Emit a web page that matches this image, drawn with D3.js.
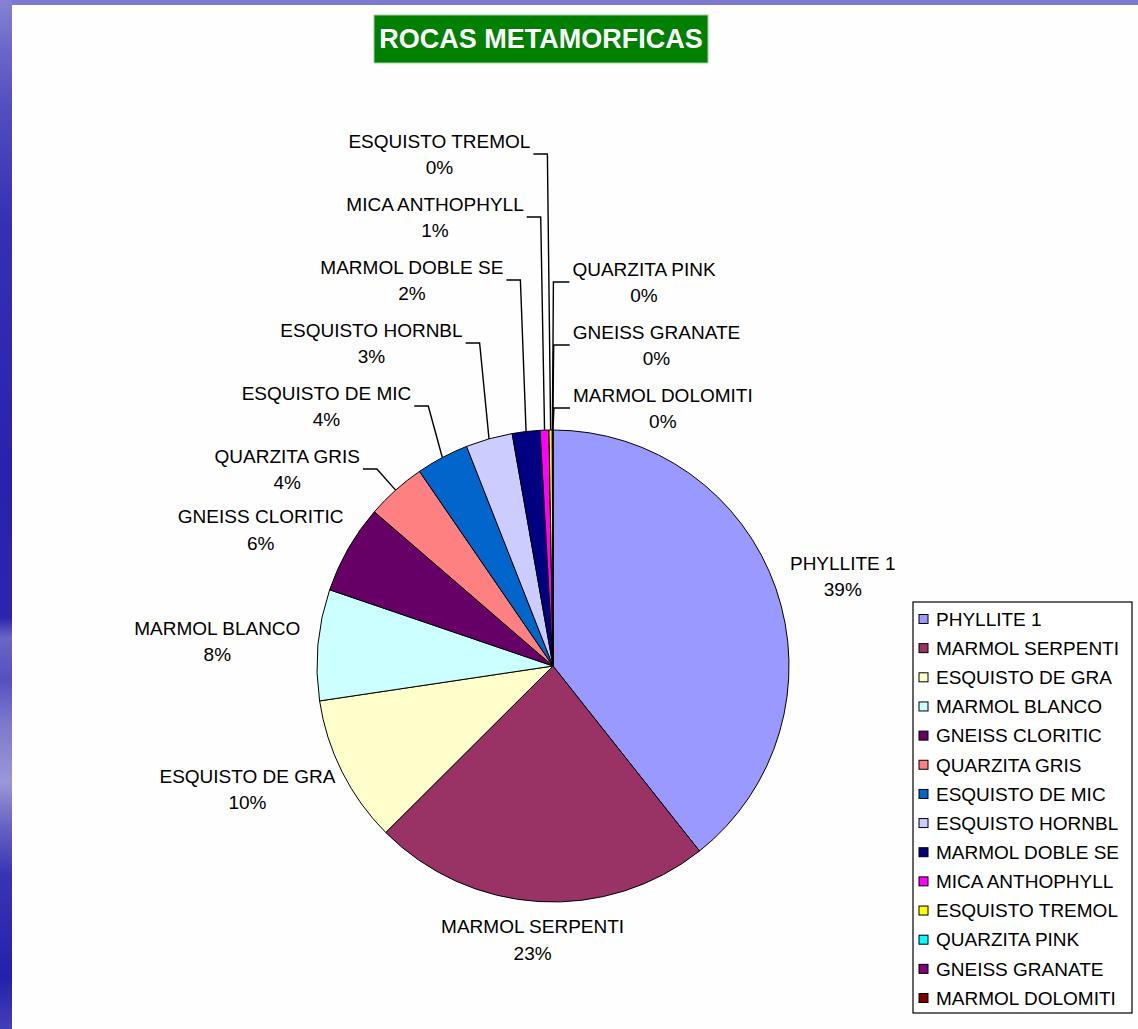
<!DOCTYPE html>
<html>
<head>
<meta charset="utf-8">
<script src="https://cdn.jsdelivr.net/npm/d3@7"></script>
<style>
	body{margin:0;background:#fff;}
	svg{display:block;font-family:"Liberation Sans", Arial, sans-serif;}
</style>
</head>
<body>
<svg id="chart"></svg>
<script>
	var title = "ROCAS METAMORFICAS";

	var categories = ["PHYLLITE 1", "MARMOL SERPENTI", "ESQUISTO DE GRA", "MARMOL BLANCO",
		"GNEISS CLORITIC", "QUARZITA GRIS", "ESQUISTO DE MIC", "ESQUISTO HORNBL",
		"MARMOL DOBLE SE", "MICA ANTHOPHYLL", "ESQUISTO TREMOL", "QUARZITA PINK",
		"GNEISS GRANATE", "MARMOL DOLOMITI"];

	// shares (percent)
	var values = [39.35, 23.2, 10.1, 7.6, 6.1, 4.1, 3.6, 3.2, 1.9, 0.6, 0.22, 0.02, 0.02, 0.01];

	var colors = ["#9999ff", "#993366", "#ffffcc", "#ccffff", "#660066", "#ff8080", "#0066cc",
		"#ccccff", "#000080", "#ff00ff", "#ffff00", "#00ffff", "#800080", "#800000"];

	var width = 1138, height = 1029;
	var cx = 553, cy = 666, radius = 236;
	var fontSize = 19, lineH = 26.5, capH = 13.6;

	var svg = d3.select("#chart").attr("width", width).attr("height", height);

	// slide background decoration
	var defs = svg.append("defs");
	var grad = defs.append("linearGradient").attr("id", "stripe")
		.attr("x1", 0).attr("y1", 0).attr("x2", 0).attr("y2", 1);
	[[0, "#8584d2"], [0.05, "#6a66c8"], [0.1, "#5550c0"], [0.16, "#443eba"], [0.22, "#3530b2"],
	 [0.45, "#2a22ae"], [0.6, "#2c24ae"], [0.62, "#6a66c4"], [0.66, "#5550c0"], [0.7, "#7a76cc"],
	 [0.76, "#9a98d8"], [0.8, "#6a66c4"], [0.85, "#3a34b4"], [0.95, "#2420ac"], [1, "#4440b8"]]
		.forEach(function(s){ grad.append("stop").attr("offset", s[0]).attr("stop-color", s[1]); });

	svg.append("rect").attr("width", width).attr("height", height).attr("fill", "#fefefe");
	svg.append("rect").attr("x", 0).attr("y", 0).attr("width", width).attr("height", 5).attr("fill", "#7c7ad0");
	svg.append("rect").attr("x", 0).attr("y", 0).attr("width", 12).attr("height", height).attr("fill", "url(#stripe)");

	// title
	svg.append("rect").attr("x", 374).attr("y", 15).attr("width", 334).attr("height", 48)
		.attr("fill", "#008000").attr("stroke", "#9fcf9f").attr("stroke-width", 1);
	svg.append("text").attr("x", 541).attr("y", 47.5).attr("text-anchor", "middle")
		.attr("fill", "#fff").style("font", "bold 27px 'Liberation Sans', Arial, sans-serif")
		.text(title);

	var data = categories.map(function(c, i){ return {name: c, value: values[i]}; });
	var total = d3.sum(values);

	var color = d3.scaleOrdinal().domain(categories).range(colors);

	var pie = d3.pie().sort(null).value(function(d){ return d.value; });
	var arc = d3.arc().innerRadius(0).outerRadius(radius);

	var arcs = pie(data);
	arcs.forEach(function(a){
		a.mid = (a.startAngle + a.endAngle) / 2;
		a.share = a.data.value / total;
		a.px = cx + radius * Math.sin(a.mid);
		a.py = cy - radius * Math.cos(a.mid);
	});

	var g = svg.append("g").attr("transform", "translate(" + cx + "," + cy + ")");
	g.selectAll("path")
		.data(arcs)
		.enter().append("path")
		.attr("d", arc)
		.attr("fill", function(d){ return color(d.data.name); })
		.attr("stroke", "#000")
		.attr("stroke-width", 1)
		.attr("stroke-linejoin", "round");

	var labels = svg.append("g").style("font-size", fontSize + "px").attr("fill", "#000");

	function pct(d){ return Math.round(d.share * 100) + "%"; }

	// two centred lines, returns block width
	function makeLabel(d){
		var t = labels.append("text").attr("text-anchor", "middle");
		var l1 = t.append("tspan").text(d.data.name);
		var l2 = t.append("tspan").text(pct(d));
		var w = Math.max(l1.node().getComputedTextLength(), l2.node().getComputedTextLength());
		return {text: t, l1: l1, l2: l2, w: w};
	}

	function place(lab, x, midY){
		lab.l1.attr("x", x).attr("y", midY - lineH / 2 + capH / 2);
		lab.l2.attr("x", x).attr("y", midY + lineH / 2 + capH / 2);
	}

	var line = d3.line();
	var leaders = svg.append("g").attr("fill", "none").attr("stroke", "#000").attr("stroke-width", 1.4);

	var big = arcs.filter(function(d){ return d.share >= 0.05; });
	var leftSmall = arcs.filter(function(d){ return d.share < 0.05 && d.share >= 0.001; });
	var rightSmall = arcs.filter(function(d){ return d.share < 0.001; });

	var pad = 18, blockH = 40;
	big.forEach(function(d){
		var lab = makeLabel(d);
		var s = Math.sin(d.mid), c = Math.cos(d.mid);
		var x = cx + (radius + pad) * s + lab.w / 2 * s;
		var y = cy - (radius + pad) * c - blockH / 2 * c;
		place(lab, x, y);
	});

	leftSmall.forEach(function(d, k){
		var lab = makeLabel(d);
		var midY = cy - radius + 39 - k * 63;
		var right = d.px - 20 - 0.1 * Math.abs(d.px - cx);
		place(lab, right - lab.w / 2, midY);
		leaders.append("path").attr("d", line([[right + 3, midY], [right + 17, midY], [d.px, d.py]]));
	});

	var nr = rightSmall.length;
	rightSmall.forEach(function(d, j){
		var lab = makeLabel(d);
		var midY = cy - radius - 22 - (nr - 1 - j) * 63;
		var left = d.px + 20;
		place(lab, left + lab.w / 2, midY);
		leaders.append("path").attr("d", line([[left - 3, midY], [d.px + 1, midY], [d.px, d.py]]));
	});

	// legend
	var legX = 913, legY = 602, legW = 219, legH = 411;
	var legend = svg.append("g");
	legend.append("rect").attr("x", legX).attr("y", legY).attr("width", legW).attr("height", legH)
		.attr("fill", "#fff").attr("stroke", "#000").attr("stroke-width", 1.2);

	var rowY = d3.scalePoint().domain(categories).range([legY + 17, legY + legH - 15]);

	var item = legend.selectAll(".leg")
		.data(categories)
		.enter().append("g").attr("class", "leg");

	item.append("rect")
		.attr("x", legX + 6)
		.attr("y", function(d){ return rowY(d) - 4.5; })
		.attr("width", 9).attr("height", 9)
		.attr("fill", function(d){ return color(d); })
		.attr("stroke", "#000").attr("stroke-width", 1);

	item.append("text")
		.attr("x", legX + 23)
		.attr("y", function(d){ return rowY(d) + capH / 2; })
		.style("font-size", fontSize + "px")
		.text(function(d){ return d; });
</script>
</body>
</html>
